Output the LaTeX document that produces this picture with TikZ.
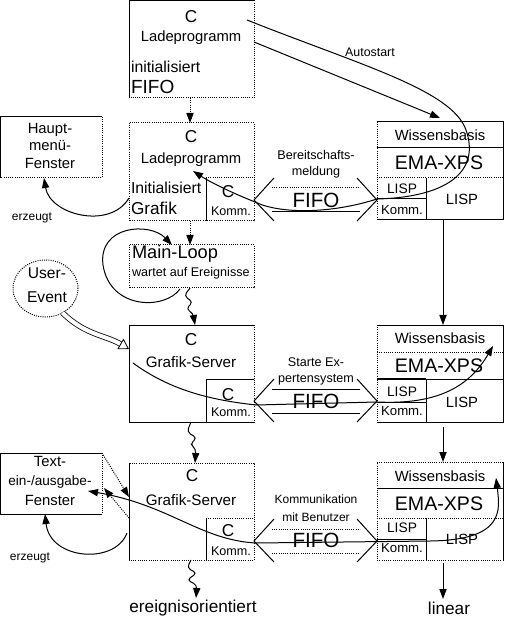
\documentclass[tikz,border=0pt]{standalone}
\usepackage{fontspec}
\setmainfont{Liberation Sans}
\usetikzlibrary{arrows.meta,fit,shapes.geometric}
\newcommand{\fz}[1]{\fontsize{#1}{#1}\selectfont}
\begin{document}
\begin{tikzpicture}[x=0.5pt,y=-0.5pt,
  every node/.style={inner sep=0pt,outer sep=0pt},
  ln/.style={line width=0.5pt},
  dl/.style={line width=0.5pt,dash pattern=on 0.5pt off 0.6pt},
  tip/.style={-{Triangle[length=5pt,width=3.6pt]}},
  region/.style={fit=#1,inner sep=0pt},
  tc/.style={font=\fz{8.6}},
  tm/.style={font=\fz{7.4}},
  ts/.style={font=\fz{6.3}},
  tf/.style={font=\fz{10.3}},
  te/.style={font=\fz{9.8}},
]
\useasboundingbox (0,0) rectangle (504,619);

% ---------- regions ----------
\coordinate (L1a) at (129,0.5);  \coordinate (L1b) at (254,98);
\coordinate (L2a) at (129,123);  \coordinate (L2b) at (254,221);
\coordinate (K2a) at (206,178);  \coordinate (K2b) at (254,221);
\coordinate (Ha) at (0.5,117);   \coordinate (Hb) at (102,178);
\coordinate (Ma) at (129,245);   \coordinate (Mb) at (254,288);
\coordinate (G1a) at (129,325);  \coordinate (G1b) at (254,422);
\coordinate (K4a) at (206,379);  \coordinate (K4b) at (254,422);
\coordinate (G2a) at (129,463);  \coordinate (G2b) at (254,560);
\coordinate (K6a) at (206,518);  \coordinate (K6b) at (254,560);
\coordinate (Ta) at (0.5,453);   \coordinate (Tb) at (102,514);
\coordinate (R1a) at (377,122);  \coordinate (R1b) at (503.5,220);
\coordinate (R2a) at (377,325);  \coordinate (R2b) at (503.5,422);
\coordinate (R3a) at (377,462);  \coordinate (R3b) at (503.5,560);
\node[region={(L1a)(L1b)}] (L1) {};
\node[region={(L2a)(L2b)}] (L2) {};
\node[region={(K2a)(K2b)}] (K2) {};
\node[region={(Ha)(Hb)}] (H) {};
\node[region={(Ma)(Mb)}] (M) {};
\node[region={(G1a)(G1b)}] (G1) {};
\node[region={(K4a)(K4b)}] (K4) {};
\node[region={(G2a)(G2b)}] (G2) {};
\node[region={(K6a)(K6b)}] (K6) {};
\node[region={(Ta)(Tb)}] (T) {};
\node[region={(R1a)(R1b)}] (R1) {};
\node[region={(R2a)(R2b)}] (R2) {};
\node[region={(R3a)(R3b)}] (R3) {};

% ---------- box outlines ----------
% L1
\draw[ln] (L1.south west) -- (L1.north west) -- (L1.north east);
\draw[dl] (L1.north east) -- (L1.south east) -- (L1.south west);
% L2
\draw[dl] (L2.north west) rectangle (L2.south east);
\draw[dl] (K2.north west) -- (K2.north east);
\draw[ln] (K2.north west) -- (K2.south west);
% H
\draw[ln] (H.south west) -- (H.north west) -- (H.north east);
\draw[dl] (H.north east) -- (H.south east) -- (H.south west);
% M
\draw[dl] (M.north west) rectangle (M.south east);
% G1
\draw[ln] (G1.north east) -- (G1.north west) -- (G1.south west) -- (G1.south east);
\draw[dl] (G1.north east) -- (G1.south east);
\draw[ln] (K4.south west) -- (K4.north west) -- (K4.north east);
% G2
\draw[dl] (G2.north west) rectangle (G2.south east);
\draw[ln] (G2.north west) -- (G2.south west);
\draw[ln] (K6.north west) -- (K6.south west);
\draw[dl] (K6.north west) -- (K6.north east);
% T
\draw[ln] (T.north east) -- (T.north west) -- (T.south west) -- (T.south east);
\draw[dl] (T.north east) -- (T.south east);
% R1
\draw[ln] (R1.south west) -- (R1.south east) -- (R1.north east) -- (R1.north west);
\draw[dl] (R1.north west) -- (R1.south west);
\draw[ln] (377,148) -- (503.5,148);
\draw[dl] (377,178) -- (503.5,178);
\draw[ln] (426,178) -- (426,220);
\draw[ln] (377,199) -- (426,199);
% R2
\draw[ln] (R2.south west) -- (R2.south east) -- (R2.north east) -- (R2.north west);
\draw[dl] (R2.north west) -- (R2.south west);
\draw[dl] (377,352) -- (503.5,352);
\draw[ln] (426,379) -- (503.5,379);
\draw[line width=1pt] (377,379) -- (426,379);
\draw[ln] (426,379) -- (426,422);
\draw[ln] (377,402) -- (426,402);
% R3
\draw[dl] (R3.north west) -- (R3.north east);
\draw[ln] (R3.north east) -- (R3.south east);
\draw[dl] (R3.south east) -- (R3.south west) -- (R3.north west);
\draw[ln] (377,488) -- (503.5,488);
\draw[dl] (377,518) -- (503.5,518);
\draw[ln] (426,518) -- (426,560);
\draw[ln] (377,539) -- (426,539);

% ---------- texts ----------
\node[tc] (l1c) at (191,17) {C};
\node[tm] (l1l) at (191,38) {Ladeprogramm};
\node[font=\fz{7.9},anchor=west] (l1i) at (131,67) {initialisiert};
\node[font=\fz{9.5},anchor=west] (l1f) at (131,87) {FIFO};

\node[tc] (l2c) at (191,137) {C};
\node[tm] (l2l) at (191,160) {Ladeprogramm};
\node[font=\fz{7.9},anchor=west] (l2i) at (131,188) {Initialisiert};
\node[font=\fz{8.6},anchor=west] (l2g) at (131,208) {Grafik};
\node[tc] (k2c) at (228,192) {C};
\node[ts] (k2k) at (231,211) {Komm.};

\node[tm] (h1) at (50,130) {Haupt-};
\node[tm] (h2) at (50,146) {menü-};
\node[tm] (h3) at (50,163) {Fenster};
\node[font=\fz{6}] (erz1) at (32,218) {erzeugt};

\node[font=\fz{9.1},anchor=west] (ml) at (132,254) {Main-Loop};
\node[ts,anchor=west] (mw) at (132,273) {wartet auf Ereignisse};

\node[draw,dl,ellipse,minimum width=32.5pt,minimum height=28.5pt] (UE) at (45.5,288.5) {};
\node[font=\fz{7.8}] (ue1) at (47,273) {User-};
\node[font=\fz{7.8}] (ue2) at (47,297) {Event};

\node[tc] (g1c) at (191,340) {C};
\node[font=\fz{7.6}] (g1g) at (191,362) {Grafik-Server};
\node[tc] (k4c) at (228,395) {C};
\node[ts] (k4k) at (231,412) {Komm.};

\node[tc] (g2c) at (192,476) {C};
\node[font=\fz{7.6}] (g2g) at (191,500) {Grafik-Server};
\node[tc] (k6c) at (228,531) {C};
\node[ts] (k6k) at (231,551) {Komm.};

\node[tm] (t1) at (50,461) {Text-};
\node[font=\fz{6.8}] (t2) at (50,482) {ein-/ausgabe-};
\node[tm] (t3) at (50,500) {Fenster};
\node[font=\fz{6}] (erz2) at (30,558) {erzeugt};

\foreach \n/\y in {1/0,2/203,3/341} {
  \node[tm] (rw\n) at (440,135+\y) {Wissensbasis};
  \node[te] (re\n) at (439,163+\y) {EMA-XPS};
}
\node[font=\fz{6.9}] (rl1) at (402,189) {LISP};
\node[font=\fz{6.6}] (rk1) at (402,210) {Komm.};
\node[tm] (rr1) at (462,199) {LISP};
\node[font=\fz{6.9}] (rl2) at (402,392) {LISP};
\node[font=\fz{6.6}] (rk2) at (402,411) {Komm.};
\node[tm] (rr2) at (462,402) {LISP};
\node[font=\fz{6.9}] (rl3) at (402,528) {LISP};
\node[font=\fz{6.6}] (rk3) at (402,548) {Komm.};
\node[tm] (rr3) at (462,539) {LISP};

% FIFO symbols
\foreach \y/\tb/\bb in {200/dl/ln,401/ln/ln,541/dl/dl} {
  \begin{scope}[shift={(0,\y)}]
    \draw[ln] (274,-22) -- (254,0) -- (274,21);
    \draw[ln] (357,-22) -- (377,0) -- (357,21);
    \draw[\tb] (272,-12) -- (360,-12);
    \draw[\bb] (272,12) -- (360,12);
  \end{scope}
}
\node[tf] (fifo1) at (316,200) {FIFO};
\node[tf] (fifo2) at (316,401) {FIFO};
\node[tf] (fifo3) at (316,540) {FIFO};
\node[ts] (b1) at (316,155) {Bereitschafts-};
\node[ts] (b2) at (316,172) {meldung};
\node[ts] (s1) at (316,362) {Starte Ex-};
\node[ts] (s2) at (316,380) {pertensystem};
\node[font=\fz{6}] (c1) at (316,499) {Kommunikation};
\node[font=\fz{6}] (c2) at (316,517) {mit Benutzer};
\node[font=\fz{6.2}] (auto) at (370,52) {Autostart};

\node[font=\fz{8.6}] (ev) at (193,608) {ereignisorientiert};
\node[font=\fz{8.6}] (lin) at (449,608) {linear};

% ---------- connectors ----------
\coordinate (a1s) at (247,20);
\coordinate (a2s) at (254,42);
\coordinate (a2e) at (440,118);
\coordinate (lp) at (193,171);
\draw[ln,tip] (a2s) -- (a2e);
\draw[ln,tip] (a1s) .. controls (360,65) and (452,90) .. (466,130)
  .. controls (480,170) and (450,197) .. (377,199)
  .. controls (330,214) and (280,214) .. (255,202)
  .. controls (230,192) and (210,182) .. (lp);

\draw[dl,tip] (L1.south -| 190,0) -- (L2.north -| 190,0);
\draw[dl,tip] (L2.south -| 190,0) -- (M.north -| 190,0);

\coordinate (e1s) at (129,198);
\draw[ln,tip] (e1s) .. controls (110,230) and (50,215) .. (H.south -| 44,0);

% Main loop
\coordinate (mls) at (180,289);
\coordinate (mle) at (172,245);
\draw[ln,tip] (mls) .. controls (165,310) and (110,310) .. (103,265)
  .. controls (98,225) and (150,222) .. (mle);

% User-Event
\draw[line width=0.4pt,double,double distance=2pt,-{Triangle[open,length=5pt,width=6pt]}]
  (UE.-55) .. controls (85,335) and (105,335) .. (G1.west |- 0,349);

% zigzags
\draw[ln,tip,rounded corners=2pt] (M.south -| 190,0) -- (184,296) -- (193,302) -- (186,309) -- (193,313) -- (G1.north -| 195,0);
\draw[ln,tip,rounded corners=2pt] (G1.south -| 191,0) -- (187,432) -- (197,438) -- (190,444) -- (196,449) -- (G2.north -| 195,0);
\draw[ln,tip,rounded corners=2pt] (G2.south -| 191,0) -- (187,568) -- (197,573) -- (187,580) -- (197,585) -- (196,598);

% vertical arrows right
\draw[ln,tip] (R1.south -| 443,0) -- (R2.north -| 443,0);
\draw[ln,tip] (443,427) -- (R3.north -| 443,0);
\draw[ln,tip] (443,563) -- (443,599);

% row 2 curve
\coordinate (g1s) at (133,363);
\coordinate (ex) at (493,346);
\draw[ln,tip] (g1s) .. controls (170,390) and (210,400) .. (256,405)
  -- (377,402) .. controls (440,405) and (470,385) .. (ex);

% row 3 curves
\coordinate (tl) at (88,491);
\coordinate (wb3) at (496,478);
\draw[ln,{Triangle[length=5pt,width=3.6pt]}-{Triangle[length=5pt,width=3.6pt]}]
  (tl) .. controls (170,505) and (200,540) .. (256,543)
  -- (430,541) .. controls (505,540) and (500,510) .. (wb3);
\draw[dl,tip] (T.north east) -- (G2.west |- 0,497);
\draw[dl,tip] (G2.west |- 0,518) -- (104,488);

\coordinate (e2s) at (127,533);
\draw[ln,tip] (e2s) .. controls (115,565) and (50,560) .. (T.south -| 45,0);
\end{tikzpicture}
\end{document}
